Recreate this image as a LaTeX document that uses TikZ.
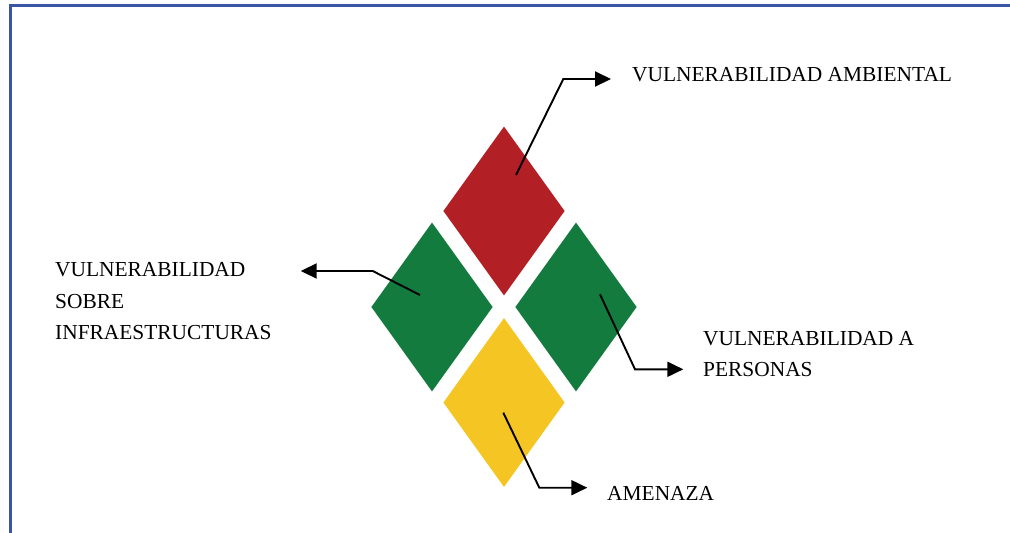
\documentclass[tikz,border=0pt]{standalone}
\usepackage{fontspec}
\setmainfont{Liberation Serif}
\usetikzlibrary{shapes.geometric,arrows.meta}
\definecolor{framecol}{RGB}{59,84,166}
\definecolor{rojo}{RGB}{178,31,36}
\definecolor{verde}{RGB}{19,123,62}
\definecolor{amarillo}{RGB}{245,198,35}
\tikzset{
  rombo/.style={diamond, draw=none, inner sep=0pt, minimum width=121.4pt, minimum height=169pt},
  conn/.style={line width=1.9pt, -{Triangle[length=16pt,width=15pt]}},
  lbl/.style={anchor=base west, inner sep=0pt, font=\fontsize{21.4}{31.5}\selectfont},
  marco/.style={draw=framecol, line width=3pt}
}
\begin{document}
\begin{tikzpicture}[x=1pt,y=-1pt]
\useasboundingbox (0,0) rectangle (1010,533);
\coordinate (fA) at (1010,5.8);
\coordinate (fB) at (10,5.8);
\coordinate (fC) at (10,533);
\draw[marco] (fA) -- (fB) -- (fC);

\node[rombo, fill=rojo] (amb) at (504,211) {};
\node[rombo, fill=verde] (inf) at (432,307) {};
\node[rombo, fill=verde] (per) at (576,307) {};
\node[rombo, fill=amarillo] (ame) at (504,402.5) {};

\node[lbl] (tAmb) at (632,81) {VULNERABILIDAD AMBIENTAL};
\node[lbl] (tInf1) at (55,276) {VULNERABILIDAD};
\node[lbl] (tInf2) at (55,308) {SOBRE};
\node[lbl] (tInf3) at (55,339) {INFRAESTRUCTURAS};
\node[lbl] (tPer1) at (703,345) {VULNERABILIDAD A};
\node[lbl] (tPer2) at (703,376) {PERSONAS};
\node[lbl] (tAme) at (607,500) {AMENAZA};

\coordinate (ambS) at (516,175);
\coordinate (ambK) at (563.3,79);
\coordinate (ambT) at (611,79);
\draw[conn] (ambS) -- (ambK) -- (ambT);

\coordinate (infS) at (420,295);
\coordinate (infK) at (372.7,271);
\coordinate (infT) at (300.7,271);
\draw[conn] (infS) -- (infK) -- (infT);

\coordinate (perS) at (600,294.3);
\coordinate (perK) at (635,369.3);
\coordinate (perT) at (683.3,369.3);
\draw[conn] (perS) -- (perK) -- (perT);

\coordinate (ameS) at (503.3,412.7);
\coordinate (ameK) at (539.3,487.7);
\coordinate (ameT) at (587.3,487.7);
\draw[conn] (ameS) -- (ameK) -- (ameT);
\end{tikzpicture}
\end{document}
